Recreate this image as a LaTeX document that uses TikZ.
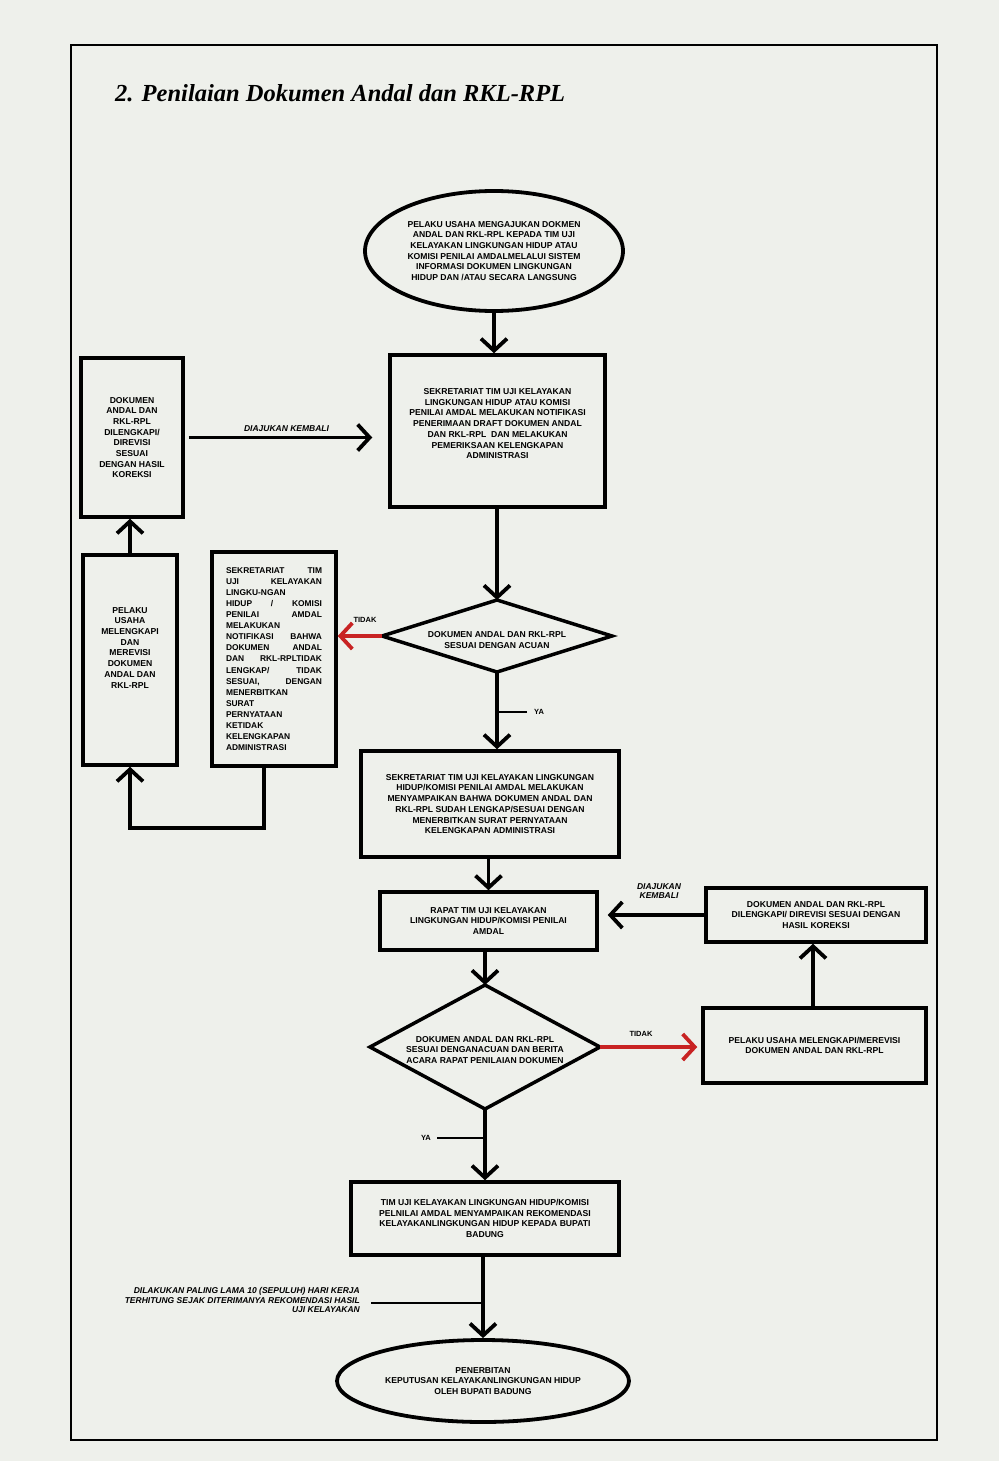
\documentclass[tikz,border=0pt]{standalone}
\usepackage{fontspec}
\usepackage{graphicx}
\setmainfont{Liberation Sans}
\newfontfamily\titlefont{Liberation Serif}
\usetikzlibrary{shapes.geometric,arrows.meta}
\definecolor{pagebg}{RGB}{238,240,235}
\definecolor{arrred}{RGB}{200,35,35}
\newcommand{\jline}[1]{\makebox[96pt][s]{#1}}
\newcommand{\lline}[1]{\makebox[96pt][l]{#1}}
\begin{document}
\begin{tikzpicture}[x=1pt,y=-1pt,
  boxtxt/.style={font=\bfseries\fontsize{8.6}{10.7}\selectfont},
  box/.style={draw, line width=3.5pt, inner sep=0pt, align=center, boxtxt},
  oval/.style={draw, ellipse, line width=3.8pt, inner sep=0pt, align=center, boxtxt},
  arr/.style={line width=3.8pt, -{Straight Barb[length=12pt,width=26pt]}},
  thin/.style={line width=1.2pt},
  lbl/.style={font=\bfseries\itshape\fontsize{8.5}{9.5}\selectfont, inner sep=1pt},
  plbl/.style={font=\bfseries\fontsize{7.5}{9}\selectfont, inner sep=1pt},
  dia/.style={line width=3.5pt, line join=miter}
]
\useasboundingbox (0,0) rectangle (999,1461);
\fill[pagebg] (0,0) rectangle (999,1461);
\draw[line width=2pt] (71,45) rectangle (937,1440);
\node[anchor=west, inner sep=0pt] (title) at (115,93)
  {\resizebox{450pt}{!}{\titlefont\bfseries\itshape\fontsize{27}{30}\selectfont 2. Penilaian Dokumen Andal dan RKL-RPL}};

% top ellipse
\node[oval, minimum width=258pt, minimum height=120pt] (e1) at (494,251)
  {PELAKU USAHA MENGAJUKAN DOKMEN\\ANDAL DAN RKL-RPL KEPADA TIM UJI\\KELAYAKAN LINGKUNGAN HIDUP ATAU\\KOMISI PENILAI AMDALMELALUI SISTEM\\INFORMASI DOKUMEN LINGKUNGAN\\HIDUP DAN /ATAU SECARA LANGSUNG};

\node[box, minimum width=215pt, minimum height=152pt] (r1) at (497.5,431)
  {SEKRETARIAT TIM UJI KELAYAKAN\\LINGKUNGAN HIDUP ATAU KOMISI\\PENILAI AMDAL MELAKUKAN NOTIFIKASI\\PENERIMAAN DRAFT DOKUMEN ANDAL\\DAN RKL-RPL\ \ DAN MELAKUKAN\\PEMERIKSAAN KELENGKAPAN\\ADMINISTRASI\\[4pt]};

\node[box, minimum width=102pt, minimum height=159pt] (bA) at (132,437.5)
  {DOKUMEN\\ANDAL DAN\\RKL-RPL\\DILENGKAPI/\\DIREVISI\\SESUAI\\DENGAN HASIL\\KOREKSI};

\node[box, minimum width=94pt, minimum height=210pt] (bB) at (130,660)
  {PELAKU\\USAHA\\MELENGKAPI\\DAN\\MEREVISI\\DOKUMEN\\ANDAL DAN\\RKL-RPL\\[14pt]};

\node[box, minimum width=124pt, minimum height=214pt, font=\bfseries\fontsize{8.4}{11.1}\selectfont] (bC) at (274,659)
  {\jline{SEKRETARIAT TIM}\\\jline{UJI KELAYAKAN}\\\lline{LINGKU-NGAN}\\\jline{HIDUP / KOMISI}\\\jline{PENILAI AMDAL}\\\lline{MELAKUKAN}\\\jline{NOTIFIKASI BAHWA}\\\jline{DOKUMEN ANDAL}\\\jline{DAN RKL-RPLTIDAK}\\\jline{LENGKAP/ TIDAK}\\\jline{SESUAI, DENGAN}\\\lline{MENERBITKAN}\\\lline{SURAT}\\\lline{PERNYATAAN}\\\lline{KETIDAK}\\\lline{KELENGKAPAN}\\\lline{ADMINISTRASI}};

% diamond 1
\coordinate (d1l) at (382,636);
\coordinate (d1r) at (612,636);
\coordinate (d1t) at (497,600);
\coordinate (d1b) at (497,672);
\draw[dia] (d1l) -- (d1t) -- (d1r) -- (d1b) -- cycle;
\node[boxtxt, align=center, inner sep=0pt] (d1) at (497,640)
  {DOKUMEN ANDAL DAN RKL-RPL\\SESUAI DENGAN ACUAN};

\node[box, minimum width=258pt, minimum height=106pt] (r2) at (490,804)
  {SEKRETARIAT TIM UJI KELAYAKAN LINGKUNGAN\\HIDUP/KOMISI PENILAI AMDAL MELAKUKAN\\MENYAMPAIKAN BAHWA DOKUMEN ANDAL DAN\\RKL-RPL SUDAH LENGKAP/SESUAI DENGAN\\MENERBITKAN SURAT PERNYATAAN\\KELENGKAPAN ADMINISTRASI};

\node[box, minimum width=217pt, minimum height=58pt] (r3) at (488.5,921)
  {RAPAT TIM UJI KELAYAKAN\\LINGKUNGAN HIDUP/KOMISI PENILAI\\AMDAL};

\node[box, minimum width=220pt, minimum height=54pt] (r4) at (816,915)
  {DOKUMEN ANDAL DAN RKL-RPL\\DILENGKAPI/ DIREVISI SESUAI DENGAN\\HASIL KOREKSI};

% diamond 2
\coordinate (d2l) at (370,1047);
\coordinate (d2r) at (600,1047);
\coordinate (d2t) at (485,985);
\coordinate (d2b) at (485,1109);
\draw[dia] (d2l) -- (d2t) -- (d2r) -- (d2b) -- cycle;
\node[boxtxt, align=center, inner sep=0pt] (d2) at (485,1050)
  {DOKUMEN ANDAL DAN RKL-RPL\\SESUAI DENGANACUAN DAN BERITA\\ACARA RAPAT PENILAIAN DOKUMEN};

\node[box, minimum width=223pt, minimum height=75pt] (r5) at (814.5,1045.5)
  {PELAKU USAHA MELENGKAPI/MEREVISI\\DOKUMEN ANDAL DAN RKL-RPL};

\node[box, minimum width=268pt, minimum height=73pt] (r6) at (485,1218.5)
  {TIM UJI KELAYAKAN LINGKUNGAN HIDUP/KOMISI\\PELNILAI AMDAL MENYAMPAIKAN REKOMENDASI\\KELAYAKANLINGKUNGAN HIDUP KEPADA BUPATI\\BADUNG};

\node[oval, minimum width=292pt, minimum height=82pt] (e2) at (483,1381)
  {PENERBITAN\\KEPUTUSAN KELAYAKANLINGKUNGAN HIDUP\\OLEH BUPATI BADUNG};

% connectors
\draw[arr] (e1.south) -- (e1.south |- r1.north);
\draw[arr] (r1.south -| d1t) -- (d1t);
\draw[arr, shorten <=4pt, shorten >=16pt] (bA.east) -- (bA.east -| r1.west)
  node[lbl, midway, above=3pt] (lblA) {DIAJUKAN KEMBALI};
\draw[arr] (bB.north) -- (bB.north |- bA.south);
\draw[arr, arrred] (d1l) -- (d1l -| bC.east);
\node[plbl] (tidak1) at (365,620) {TIDAK};
\draw[arr] (d1b) -- (d1b |- r2.north);
\coordinate (ya1) at (527,712);
\draw[thin] (ya1) -- (ya1 -| d1b);
\node[plbl, anchor=west] (yaA) at (533,712) {YA};
\draw[arr] ([xshift=-10pt]bC.south) -- ++(0,60) -| (bB.south);
\draw[arr] (r2.south -| r3.north) -- (r3.north);
\draw[arr] (r3.south -| d2t) -- (d2t);
\draw[arr, shorten >=9pt] (r4.west) -- (r4.west -| r3.east);
\node[lbl, align=center] (lblB) at (659,891) {DIAJUKAN\\KEMBALI};
\draw[arr, arrred, shorten >=4pt] (d2r) -- (d2r -| r5.west);
\node[plbl] (tidak2) at (641,1034) {TIDAK};
\draw[arr] (r5.north -| 813,0) -- (r4.south -| 813,0);
\draw[arr] (d2b) -- (d2b |- r6.north);
\coordinate (ya2) at (437,1138);
\draw[thin] (ya2) -- (ya2 -| d2b);
\node[plbl, anchor=east] (yaB) at (432,1138) {YA};
\draw[arr] (r6.south -| e2.north) -- (e2.north);
\node[lbl, align=right, anchor=east] (side) at (361,1300)
  {DILAKUKAN PALING LAMA 10 (SEPULUH) HARI KERJA\\TERHITUNG SEJAK DITERIMANYA REKOMENDASI HASIL\\UJI KELAYAKAN};
\coordinate (sl) at (371,1303);
\draw[thin] (sl) -- (sl -| e2.north);
\end{tikzpicture}
\end{document}
